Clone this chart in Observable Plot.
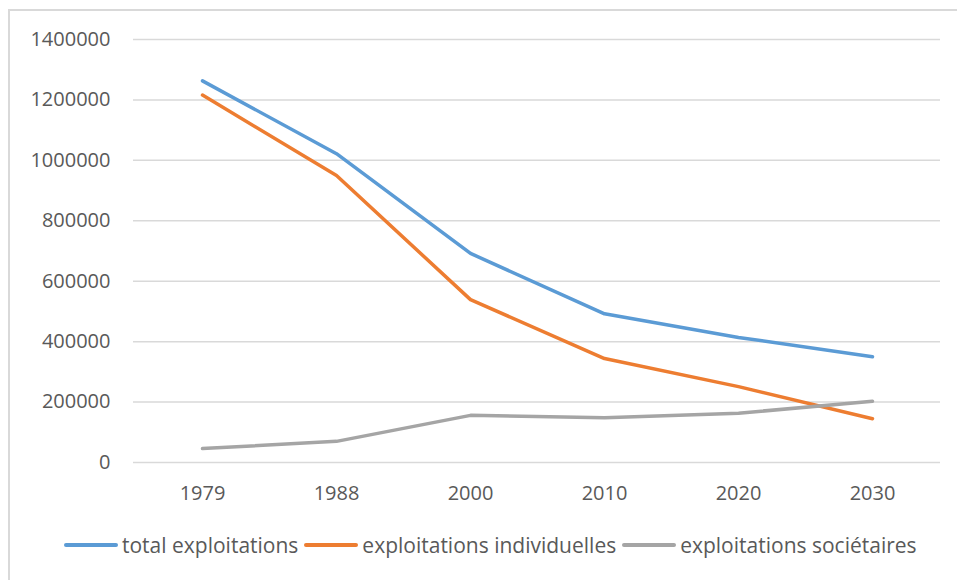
<!DOCTYPE html>
<html>
<head>
<meta charset="utf-8">
<script src="https://cdn.jsdelivr.net/npm/d3@7"></script>
<script src="https://cdn.jsdelivr.net/npm/@observablehq/plot@0.6"></script>
<style>
  html, body { margin: 0; padding: 0; background: #fff; width: 957px; height: 580px; overflow: hidden; }
  #frame { position: absolute; left: 8px; top: 9px; width: 980px; height: 600px; border: 2px solid #d9d9d9; box-sizing: border-box; }
  #chart { position: absolute; left: 0; top: 0; }
  #legend { position: absolute; left: 64px; top: 531px; display: flex; align-items: center; font-family: "Open Sans", sans-serif; font-size: 21px; color: #595959; white-space: nowrap; }
  #legend .item { display: flex; align-items: center; margin-right: 6px; }
  #legend .sw { width: 54px; height: 3.5px; border-radius: 2px; margin-right: 4px; }
</style>
</head>
<body>
<div id="frame"></div>
<div id="chart"></div>
<div id="legend"></div>
<script>
const years = ["1979", "1988", "2000", "2010", "2020", "2030"];
const totalExploitations = [1263000, 1022000, 692000, 492000, 414000, 350000];
const exploitationsIndividuelles = [1216000, 950000, 539000, 344000, 251000, 145000];
const exploitationsSocietaires = [46000, 70000, 156000, 148000, 163000, 203000];
const seriesNames = ["total exploitations", "exploitations individuelles", "exploitations sociétaires"];
const seriesColors = ["#5B9BD5", "#ED7D31", "#A5A5A5"];
const yTicks = [0, 200000, 400000, 600000, 800000, 1000000, 1200000, 1400000];

const seriesValues = [totalExploitations, exploitationsIndividuelles, exploitationsSocietaires];
const rows = [];
seriesNames.forEach((name, i) => {
  years.forEach((yr, j) => rows.push({series: name, year: yr, value: seriesValues[i][j]}));
});

const chart = Plot.plot({
  width: 957,
  height: 510,
  marginLeft: 133,
  marginRight: 17,
  marginTop: 39,
  marginBottom: 48,
  style: { fontFamily: "'Open Sans', sans-serif", background: "transparent" },
  x: { type: "point", domain: years, padding: 0.5, label: null },
  y: { domain: [0, 1400000], label: null },
  color: { domain: seriesNames, range: seriesColors },
  marks: [
    Plot.gridY(yTicks, { stroke: "#d9d9d9", strokeOpacity: 1, strokeWidth: 1.5 }),
    Plot.axisY(yTicks, { tickSize: 0, tickPadding: 23, fontSize: 20, fill: "#595959", tickFormat: d => String(d), label: null }),
    Plot.axisX({ tickSize: 0, tickPadding: 23, fontSize: 20, fill: "#595959", label: null }),
    Plot.line(rows, { x: "year", y: "value", z: "series", stroke: "series", strokeWidth: 3.5, strokeLinecap: "round", strokeLinejoin: "round" })
  ]
});
document.getElementById("chart").appendChild(chart);

const legend = document.getElementById("legend");
seriesNames.forEach((name, i) => {
  const item = document.createElement("div");
  item.className = "item";
  const sw = document.createElement("div");
  sw.className = "sw";
  sw.style.background = seriesColors[i];
  const label = document.createElement("span");
  label.textContent = name;
  item.appendChild(sw);
  item.appendChild(label);
  legend.appendChild(item);
});
</script>
</body>
</html>
